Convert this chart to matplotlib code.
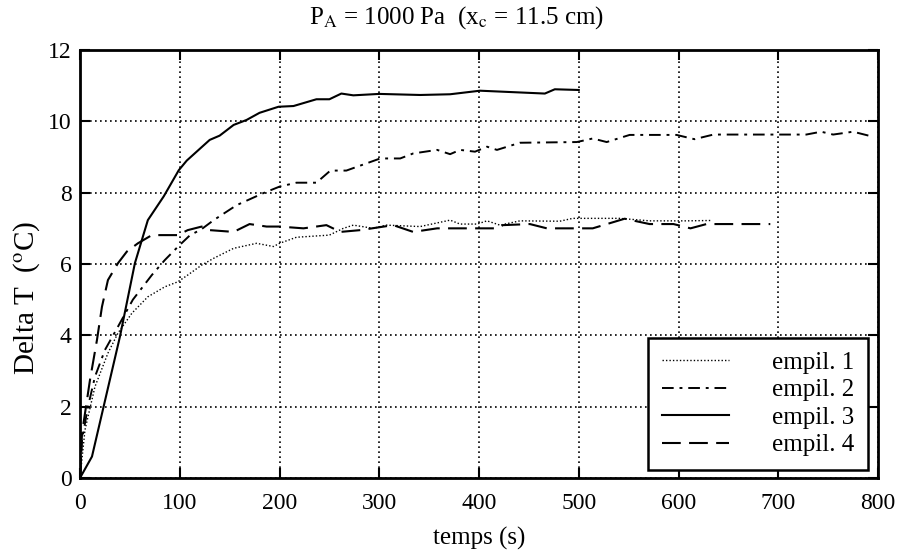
import matplotlib
matplotlib.use("Agg")
import matplotlib.pyplot as plt

plt.rcParams['font.family'] = ['Liberation Serif', 'DejaVu Serif']
plt.rcParams['mathtext.fontset'] = 'stix'

# empil. 1 (dotted)
t1 = [0, 5, 15, 28, 38, 52, 68, 85, 98, 108, 122, 134, 154, 177, 194, 200, 217, 250, 264, 274,
      294, 307, 341, 371, 381, 398, 408, 421, 441, 481, 494, 541, 571, 608, 632]
d1 = [0, 1.35, 2.56, 3.5, 4.06, 4.62, 5.08, 5.36, 5.5, 5.69, 5.97, 6.16, 6.44, 6.58, 6.49, 6.58, 6.75, 6.81, 7.0, 7.09,
      7.0, 7.09, 7.05, 7.23, 7.12, 7.12, 7.21, 7.09, 7.21, 7.2, 7.28, 7.28, 7.21, 7.21, 7.22]

# empil. 2 (dash-dot)
t2 = [0, 2, 8, 15, 25, 38, 53, 72, 85, 98, 110, 122, 134, 157, 184, 200, 217, 237, 251, 267,
      301, 321, 334, 358, 371, 381, 396, 408, 418, 441, 498, 514, 528, 551, 598, 616, 635,
      728, 743, 755, 775, 792]
d2 = [0, 1.07, 2.0, 2.84, 3.59, 4.24, 5.0, 5.69, 6.11, 6.48, 6.8, 6.98, 7.23, 7.65, 7.99, 8.17, 8.28, 8.28, 8.62, 8.62,
      8.96, 8.96, 9.1, 9.2, 9.08, 9.2, 9.15, 9.29, 9.2, 9.4, 9.42, 9.52, 9.42, 9.62, 9.62, 9.5, 9.63,
      9.63, 9.71, 9.63, 9.71, 9.59]

# empil. 3 (solid)
t3 = [0, 12, 40, 55, 68, 84, 99, 107, 130, 140, 154, 167, 180, 199, 214, 237, 250, 262, 274, 300,
      341, 371, 401, 466, 476, 500]
d3 = [0, 0.6, 3.96, 6.02, 7.23, 7.9, 8.63, 8.9, 9.48, 9.6, 9.9, 10.04, 10.24, 10.41, 10.43, 10.62, 10.62, 10.78, 10.73, 10.77,
      10.74, 10.76, 10.86, 10.78, 10.9, 10.88]

# empil. 4 (dashed)
t4 = [0, 2, 10, 17, 22, 28, 38, 47, 58, 72, 98, 108, 122, 130, 154, 170, 187, 200, 224, 247,
      261, 281, 314, 334, 358, 418, 424, 451, 468, 514, 546, 571, 595, 612, 628, 692]
d4 = [0, 1.25, 2.75, 3.87, 4.8, 5.55, 6.02, 6.35, 6.58, 6.81, 6.81, 6.95, 7.05, 6.95, 6.9, 7.12, 7.05, 7.05, 7.0, 7.09,
      6.9, 6.95, 7.09, 6.9, 7.0, 7.0, 7.09, 7.12, 7.0, 7.0, 7.27, 7.12, 7.12, 7.0, 7.12, 7.12]

fig = plt.figure(figsize=(9.01, 5.5), dpi=100)
ax = fig.add_axes([0.0888, 0.131, 0.8857, 0.778])

ax.plot(t1, d1, color='black', lw=1.0, linestyle=(0, (1, 1.5)), label='empil. 1')
ax.plot(t2, d2, color='black', lw=1.4, linestyle=(0, (6, 3, 1.5, 3)), label='empil. 2')
ax.plot(t3, d3, color='black', lw=1.5, linestyle='-', label='empil. 3')
ax.plot(t4, d4, color='black', lw=1.5, linestyle=(0, (9, 4)), label='empil. 4')

ax.set_xlim(0, 800)
ax.set_ylim(0, 12)
ax.set_xticks(range(0, 801, 100))
ax.set_yticks(range(0, 13, 2))
ax.grid(True, color='black', linestyle=(0, (1, 2)), lw=1.2)
ax.tick_params(direction='in', top=True, right=True, length=7, width=1.5, labelsize=17)
ax.tick_params(axis='x', pad=11)
ax.tick_params(axis='y', pad=6)
for s in ax.spines.values():
    s.set_linewidth(2)

ax.set_xlabel('temps (s)', fontsize=18, labelpad=9)
ax.set_ylabel(r'Delta T  ($^{\mathrm{o}}$C)', fontsize=21)
ax.yaxis.set_label_coords(-0.048, 0.42)
fig.text(456 / 901, 1 - 18 / 550, r'P$_{\mathrm{A}}$ = 1000 Pa  (x$_{\mathrm{c}}$ = 11.5 cm)',
         fontsize=18, ha='center', va='center')

leg = ax.legend(loc='lower right', bbox_to_anchor=(0.987, 0.018), fontsize=18, handlelength=2.7,
                handletextpad=1.7, labelspacing=0.2, borderpad=0.55, borderaxespad=0,
                frameon=True, fancybox=False)
leg.get_frame().set_edgecolor('black')
leg.get_frame().set_linewidth(1.8)
leg.get_frame().set_alpha(1)

fig.savefig('out.png', dpi=100)
